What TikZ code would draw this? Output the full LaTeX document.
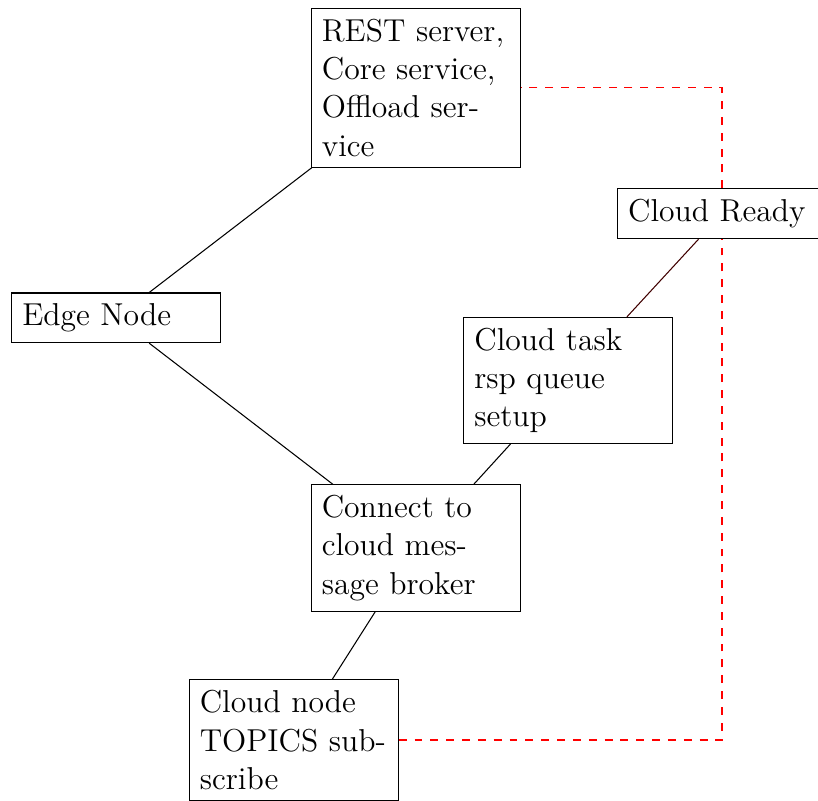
\documentclass[tikz,border=0pt]{standalone}
\begin{document}
\begin{tikzpicture}[
  x=0.37879pt, y=-0.37879pt,
  box/.style={draw, rectangle, inner sep=4pt, text width=2.5cm, align=left,
              font=\fontsize{12}{14.5}\selectfont},
  link/.style={draw, line width=0.4pt},
  relay/.style={draw, red, dashed, line width=0.4pt}
]
\useasboundingbox (0,0) rectangle (818,800);

% process steps
\node[box] (rest)  at (415.8, 87.8)  {REST server,\\Core service,\\Offload ser-\\vice};
\node[box] (edge)  at (116.2, 317.8) {Edge Node};
\node[box] (ready) at (722.0, 213.7) {Cloud Ready};
\node[box] (task)  at (568.3, 380.5) {Cloud task\\rsp queue\\setup};
\node[box] (conn)  at (415.7, 548.0) {Connect to\\cloud mes-\\sage broker};
\node[box] (sub)   at (293.7, 740.0) {Cloud node\\TOPICS sub-\\scribe};

% connections between steps
\path[link] (edge) -- (rest);
\path[link] (edge) -- (conn);
\path[link] (conn) -- (task);
\path[link, draw=red!25!black] (task) -- (ready);
\path[link] (conn) -- (sub);

% feedback path
\path[relay] (sub) -| (ready) |- (rest);
\end{tikzpicture}
\end{document}
